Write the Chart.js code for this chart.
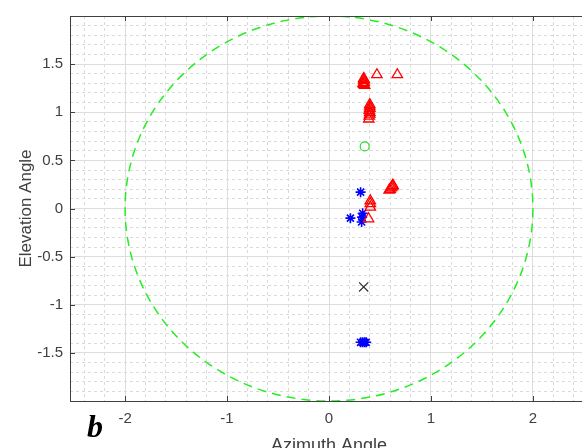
<!DOCTYPE html>
<html>
<head>
<meta charset="utf-8">
<script src="https://cdn.jsdelivr.net/npm/chart.js@4.4.1/dist/chart.umd.min.js"></script>
<style>
  html, body { margin: 0; padding: 0; background: #fff; overflow: hidden; }
  #wrap { width: 600px; height: 460px; }
</style>
</head>
<body>
<div id="wrap"><canvas id="chart" width="600" height="460"></canvas></div>
<script>
// axis limits and labels
const xLimits = [-2.54, 2.54];
const yLimits = [-2, 2];
const xTitle = 'Azimuth Angle';
const yTitle = 'Elevation Angle';
const panelLetter = 'b';

// reference ring (dashed green)
const ringCenter = [0, 0];
const ringRadius = 2;

// red open triangles
const triangleX = [0.34, 0.34, 0.345, 0.34, 0.35, 0.335, 0.345, 0.47, 0.67,
  0.40, 0.40, 0.40, 0.395, 0.40, 0.40, 0.395, 0.39,
  0.59, 0.60, 0.61, 0.62, 0.63, 0.625,
  0.405, 0.405, 0.405, 0.388];
const triangleY = [1.35, 1.33, 1.31, 1.29, 1.28, 1.30, 1.34, 1.39, 1.39,
  1.08, 1.06, 1.04, 1.02, 1.00, 0.98, 0.96, 0.93,
  0.19, 0.20, 0.215, 0.225, 0.235, 0.24,
  0.08, 0.05, 0.015, -0.107];

// blue asterisks
const starX = [0.31, 0.21, 0.33, 0.32, 0.325, 0.31, 0.33, 0.35, 0.365];
const starY = [0.17, -0.10, -0.05, -0.14, -0.09, -1.39, -1.39, -1.39, -1.39];

// green circle and black cross
const circleX = [0.35];
const circleY = [0.645];
const crossX = [0.34];
const crossY = [-0.815];

const AXIS_COLOR = '#404040';
const FONT = "'Liberation Sans', Arial, sans-serif";

const toPoints = (xs, ys) => xs.map((v, i) => ({ x: v, y: ys[i] }));
const isMult = (v, step) => Math.abs(v / step - Math.round(v / step)) < 1e-6;

const matlabAxes = {
  id: 'matlabAxes',
  beforeDatasetsDraw(chart) {
    const { ctx, chartArea: a, scales: { x, y } } = chart;
    const cx = x.getPixelForValue(ringCenter[0]);
    const cy = y.getPixelForValue(ringCenter[1]);
    const rx = Math.abs(x.getPixelForValue(ringCenter[0] + ringRadius) - cx);
    const ry = Math.abs(y.getPixelForValue(ringCenter[1] + ringRadius) - cy);
    ctx.save();
    ctx.beginPath();
    ctx.rect(a.left, a.top, a.right - a.left, a.bottom - a.top);
    ctx.clip();
    ctx.strokeStyle = '#22ee22';
    ctx.lineWidth = 1.5;
    ctx.setLineDash([9, 6]);
    ctx.beginPath();
    ctx.ellipse(cx, cy, rx, ry, 0, 0, Math.PI * 2);
    ctx.stroke();
    ctx.restore();
  },
  afterDraw(chart) {
    const { ctx, chartArea: a, scales: { x, y } } = chart;
    ctx.save();
    ctx.strokeStyle = AXIS_COLOR;
    ctx.lineWidth = 1;
    ctx.strokeRect(a.left + 0.5, a.top + 0.5, a.right - a.left, a.bottom - a.top);
    ctx.beginPath();
    x.ticks.forEach(t => {
      const px = Math.round(x.getPixelForValue(t.value)) + 0.5;
      ctx.moveTo(px, a.bottom); ctx.lineTo(px, a.bottom - 5);
      ctx.moveTo(px, a.top); ctx.lineTo(px, a.top + 5);
    });
    y.ticks.forEach(t => {
      if (Math.abs(t.value) >= 2) return;
      const py = Math.round(y.getPixelForValue(t.value)) + 0.5;
      ctx.moveTo(a.left, py); ctx.lineTo(a.left + 5, py);
      ctx.moveTo(a.right, py); ctx.lineTo(a.right - 5, py);
    });
    ctx.stroke();
    ctx.fillStyle = '#000';
    ctx.font = "bold italic 32px 'Liberation Serif', 'Times New Roman', serif";
    ctx.textBaseline = 'alphabetic';
    ctx.fillText(panelLetter, 87, 437);
    ctx.restore();
  }
};

new Chart(document.getElementById('chart'), {
  type: 'scatter',
  data: {
    datasets: [
      {
        data: toPoints(triangleX, triangleY),
        pointStyle: 'triangle', pointRadius: 6, pointBorderWidth: 1.3,
        borderColor: '#ff0000', backgroundColor: 'rgba(0,0,0,0)'
      },
      {
        data: toPoints(starX, starY),
        pointStyle: 'star', pointRadius: 5, pointBorderWidth: 1.6,
        borderColor: '#0000ff', backgroundColor: 'rgba(0,0,0,0)'
      },
      {
        data: toPoints(circleX, circleY),
        pointStyle: 'circle', pointRadius: 4.5, pointBorderWidth: 1.2,
        borderColor: '#22dd22', backgroundColor: 'rgba(0,0,0,0)'
      },
      {
        data: toPoints(crossX, crossY),
        pointStyle: 'crossRot', pointRadius: 6.5, pointBorderWidth: 1.2,
        borderColor: '#303030', backgroundColor: 'rgba(0,0,0,0)'
      }
    ]
  },
  options: {
    responsive: false,
    animation: false,
    devicePixelRatio: 1,
    layout: { padding: { top: 15, right: 12, left: 0, bottom: 0 } },
    plugins: { legend: { display: false }, tooltip: { enabled: false } },
    scales: {
      x: {
        type: 'linear', position: 'bottom', min: xLimits[0], max: xLimits[1],
        afterFit: s => { s.height = 59; },
        ticks: {
          stepSize: 1, padding: 9, color: AXIS_COLOR, font: { family: FONT, size: 15 },
          maxRotation: 0, autoSkip: false, includeBounds: false
        },
        grid: { drawTicks: false, color: '#dedede' },
        border: { display: false },
        title: { display: true, text: xTitle, color: AXIS_COLOR, font: { family: FONT, size: 18 }, padding: { top: 0, bottom: 3.5 } }
      },
      y: {
        type: 'linear', position: 'left', min: yLimits[0], max: yLimits[1],
        afterFit: s => { s.width = 70; },
        ticks: {
          stepSize: 0.5, padding: 7, color: AXIS_COLOR, font: { family: FONT, size: 15 },
          autoSkip: false,
          callback: v => Math.abs(v) >= 2 ? '' : String(v)
        },
        grid: {
          drawTicks: false,
          color: c => (Math.abs(c.tick.value) < 2) ? '#dedede' : 'rgba(0,0,0,0)'
        },
        border: { display: false },
        title: { display: true, text: yTitle, color: AXIS_COLOR, font: { family: FONT, size: 17 }, padding: { top: 16, bottom: 0 } }
      },
      xMinor: {
        type: 'linear', position: 'top', min: xLimits[0], max: xLimits[1],
        ticks: { stepSize: 0.2, display: false, autoSkip: false, includeBounds: false },
        grid: {
          z: -2, drawTicks: false,
          color: c => isMult(c.tick.value, 1) ? 'rgba(0,0,0,0)' : '#dadada'
        },
        border: { display: false, dash: [3, 3] }
      },
      yMinor: {
        type: 'linear', position: 'right', min: yLimits[0], max: yLimits[1],
        ticks: { stepSize: 0.1, display: false, autoSkip: false, includeBounds: false },
        grid: {
          z: -2, drawTicks: false,
          color: c => isMult(c.tick.value, 0.5) ? 'rgba(0,0,0,0)' : '#dadada'
        },
        border: { display: false, dash: [3, 3] }
      }
    }
  },
  plugins: [matlabAxes]
});
</script>
</body>
</html>
